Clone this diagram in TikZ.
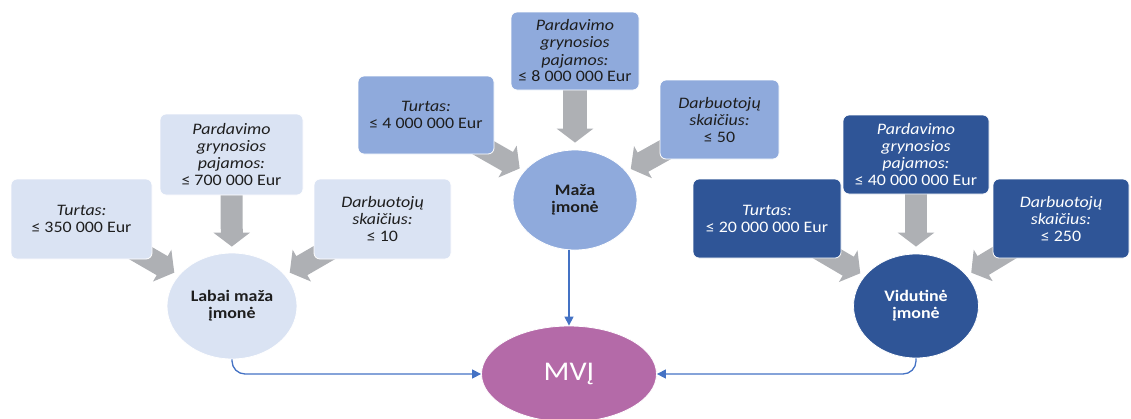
\documentclass[tikz,border=0pt]{standalone}
\usepackage{fontspec}
\setmainfont{Carlito}[FakeStretch=1.12]
\usetikzlibrary{shapes.geometric,arrows.meta,backgrounds}

\definecolor{boxlight}{HTML}{DAE3F3}
\definecolor{boxmid}{HTML}{8FAADC}
\definecolor{boxdark}{HTML}{2F5597}
\definecolor{mvjfill}{HTML}{B46AA8}
\definecolor{blockgray}{HTML}{AEB0B4}
\definecolor{linkblue}{HTML}{4472C4}
\definecolor{inktext}{HTML}{1E1E1E}

\tikzset{
  crit/.style={rectangle, rounded corners=6pt, draw=white, line width=0.8pt,
    align=center, inner sep=0pt, font=\fontsize{16}{17}\selectfont},
  critlight/.style={crit, fill=boxlight, text=inktext},
  critmid/.style={crit, fill=boxmid, text=inktext},
  critdark/.style={crit, fill=boxdark, text=white},
  firm/.style={ellipse, draw=white, line width=0.8pt, inner sep=0pt, align=center,
    font=\fontsize{16}{17}\selectfont\bfseries},
  blockarrow/.style={draw=blockgray, line width=22pt,
    -{Triangle[length=14pt,width=36pt]}, blockgray},
  link/.style={draw=linkblue, line width=1.3pt, rounded corners=13pt,
    -{Triangle[length=9pt,width=9pt]}},
}

\begin{document}
\begin{tikzpicture}[x=1pt,y=-1pt]
\useasboundingbox (0,0) rectangle (1131,418);

% --- labai maža įmonė ---
\node[critlight, minimum width=141pt, minimum height=80pt] (lT) at (81.5,219)
  {\textit{Turtas:}\\≤ 350 000 Eur};
\node[critlight, minimum width=143pt, minimum height=81pt] (lP) at (231.5,154.5)
  {\textit{Pardavimo}\\\textit{grynosios}\\\textit{pajamos:}\\≤ 700 000 Eur};
\node[critlight, minimum width=137pt, minimum height=80pt] (lD) at (382.5,219)
  {\textit{Darbuotojų}\\\textit{skaičius:}\\≤ 10};
\node[firm, fill=boxlight, text=inktext, minimum width=130pt, minimum height=106pt] (lC) at (232,306)
  {Labai maža\\įmonė};

% --- maža įmonė ---
\node[critmid, minimum width=136pt, minimum height=78pt] (mT) at (426,115)
  {\textit{Turtas:}\\≤ 4 000 000 Eur};
\node[critmid, minimum width=128pt, minimum height=78pt] (mP) at (575,51)
  {\textit{Pardavimo}\\\textit{grynosios}\\\textit{pajamos:}\\≤ 8 000 000 Eur};
\node[critmid, minimum width=119pt, minimum height=79pt] (mD) at (719.5,119.5)
  {\textit{Darbuotojų}\\\textit{skaičius:}\\≤ 50};
\node[firm, fill=boxmid, text=inktext, minimum width=124pt, minimum height=100pt] (mC) at (575,200)
  {Maža\\įmonė};

% --- vidutinė įmonė ---
\node[critdark, minimum width=148pt, minimum height=79pt] (rT) at (767,218.5)
  {\textit{Turtas:}\\≤ 20 000 000 Eur};
\node[critdark, minimum width=146pt, minimum height=79pt] (rP) at (916,154.5)
  {\textit{Pardavimo}\\\textit{grynosios}\\\textit{pajamos:}\\≤ 40 000 000 Eur};
\node[critdark, minimum width=136pt, minimum height=79pt] (rD) at (1061,218.5)
  {\textit{Darbuotojų}\\\textit{skaičius:}\\≤ 250};
\node[firm, fill=boxdark, text=white, minimum width=125pt, minimum height=104pt] (rC) at (916,306)
  {Vidutinė\\įmonė};

% --- MVĮ ---
\node[ellipse, fill=mvjfill, draw=white, line width=0.8pt, text=white,
  minimum width=175pt, minimum height=96pt, font=\fontsize{27}{30}\selectfont] (mvj) at (569,374) {MVĮ};

% grey block arrows, drawn behind the boxes
\begin{scope}[on background layer]
  \draw[blockarrow, shorten >=5pt] (lT.center) -- (lC);
  \draw[blockarrow, shorten >=6pt] (lP.center) -- (lC);
  \draw[blockarrow, shorten >=5pt] (lD.center) -- (lC);
  \draw[blockarrow, shorten >=5pt] (mT.center) -- (mC);
  \draw[blockarrow, line width=24pt, shorten >=7pt] (mP.center) -- (mC);
  \draw[blockarrow, shorten >=5pt] (mD.center) -- (mC);
  \draw[blockarrow, shorten >=5pt] (rT.center) -- (rC);
  \draw[blockarrow, shorten >=7pt] (rP.center) -- (rC);
  \draw[blockarrow, shorten >=5pt] (rD.center) -- (rC);
\end{scope}

% blue connectors into MVĮ
\draw[link] (lC.south) |- (mvj.west);
\draw[link] (rC.south) |- (mvj.east);
\draw[link] (mvj.north |- mC.south) -- (mvj.north);
\end{tikzpicture}
\end{document}
